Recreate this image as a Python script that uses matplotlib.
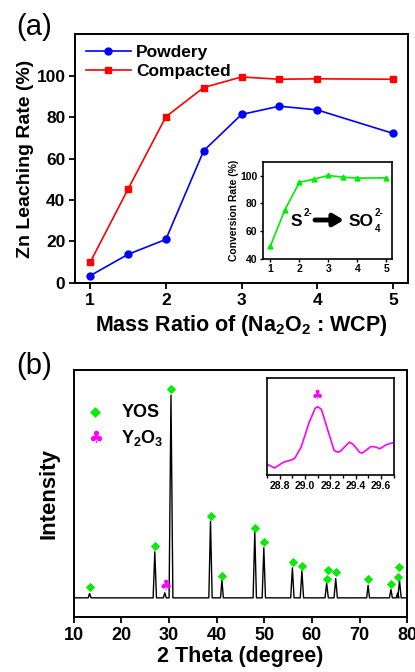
import numpy as np
import matplotlib
matplotlib.use("Agg")
import matplotlib.pyplot as plt

plt.rcParams['font.family'] = ['Liberation Sans', 'DejaVu Sans']
plt.rcParams['mathtext.fontset'] = 'custom'
plt.rcParams['mathtext.rm'] = 'Liberation Sans:bold'
plt.rcParams['mathtext.bf'] = 'Liberation Sans:bold'
plt.rcParams['mathtext.it'] = 'Liberation Sans:bold'

# (a) leaching data
ratio = [1, 1.5, 2, 2.5, 3, 3.5, 4, 5]
powdery = [3.5, 13.8, 21.0, 63.8, 81.3, 85.3, 83.5, 72.2]
compacted = [10.0, 45.3, 80.2, 94.3, 99.4, 98.3, 98.5, 98.3]
conversion = [49.2, 75.3, 95.2, 97.6, 100.2, 99.0, 98.3, 98.5]

# (b) XRD peaks: position, height (peak of 30.4 = 1000)
peak_pos = [13.3, 27.0, 29.1, 30.4, 38.7, 41.1, 48.0, 49.9, 55.9, 57.9,
            63.1, 65.0, 71.8, 76.6, 78.0, 78.4]
peak_h = [21, 227, 25, 1000, 378, 87, 326, 247, 148, 133,
          71, 95, 62, 41, 23, 87]
peak_w = [0.3, 0.35, 0.3, 0.4, 0.35, 0.3, 0.35, 0.35, 0.35, 0.35,
          0.35, 0.35, 0.3, 0.3, 0.3, 0.35]

yos_x = [13.4, 27.1, 30.4, 38.7, 41.1, 48.0, 49.9, 56.0, 57.9, 63.1, 63.3,
         65.0, 71.7, 76.6, 78.0, 78.3]
yos_y = [54, 257, 1031, 403, 110, 347, 275, 176, 158, 95, 137,
         128, 92, 69, 104, 150]
y2o3_x = [29.2]
y2o3_y = [59]

# inset (b) zoom around 29 deg
zoom_x = [28.70, 28.76, 28.83, 28.90, 28.92, 28.97, 29.03, 29.08, 29.10,
          29.13, 29.18, 29.23, 29.26, 29.28, 29.35, 29.38, 29.43, 29.45,
          29.48, 29.52, 29.56, 29.59, 29.64, 29.70]
zoom_y = [60, 48, 65, 73, 77, 110, 180, 225, 230, 222, 160, 100, 95, 98,
          125, 118, 95, 92, 100, 112, 110, 105, 117, 124]

W, H = 415, 672


def fx(px):
    return px / W


def fy(py):
    return 1 - py / H


def club(axis, xs, ys, size):
    for xx, yy in zip(xs, ys):
        axis.text(xx, yy, '\u2663', color='#ff00ff', fontsize=size,
                  ha='center', va='center', family='DejaVu Sans', zorder=4)


fig = plt.figure(figsize=(4.15, 6.72), dpi=100)

# ---------- panel (a)
ax = fig.add_axes([0.181, 0.579, 0.802, 0.370])
ax.plot(ratio, powdery, '-o', color='#0000ff', ms=5, lw=1.2, label='Powdery')
ax.plot(ratio, compacted, '-s', color='#ff0000', ms=5, lw=1.2, label='Compacted')
ax.set_xlim(0.8, 5.2)
ax.set_ylim(0, 120)
ax.set_xticks([1, 2, 3, 4, 5])
ax.set_yticks([0, 20, 40, 60, 80, 100])
ax.tick_params(direction='out', width=1.3, length=4, labelsize=12.5, pad=3)
for lab in ax.get_xticklabels() + ax.get_yticklabels():
    lab.set_fontweight('bold')
for s in ax.spines.values():
    s.set_linewidth(1.4)
ax.set_ylabel('Zn Leaching Rate (%)', fontsize=14, fontweight='bold', labelpad=2)
ax.set_xlabel(r'Mass Ratio of (Na$_2$O$_2$ : WCP)', fontsize=15.5,
              fontweight='bold', labelpad=4)
leg = ax.legend(loc='upper left', frameon=False, fontsize=12.5,
                handlelength=2.6, borderaxespad=0.2, labelspacing=0.25,
                handletextpad=0.3, bbox_to_anchor=(0.0, 1.0))
for t in leg.get_texts():
    t.set_fontweight('bold')
fig.text(fx(16), fy(27), '(a)', fontsize=21, va='center')

ins = fig.add_axes([0.634, 0.615, 0.311, 0.144])
ins.plot(ratio, conversion, '-^', color='#00ee00', ms=3.5, lw=1.2)
ins.set_xlim(0.75, 5.2)
ins.set_ylim(40, 110)
ins.set_xticks([1, 2, 3, 4, 5])
ins.set_yticks([40, 60, 80, 100])
ins.tick_params(direction='out', width=1, length=2.5, labelsize=7.5, pad=1.5)
for lab in ins.get_xticklabels() + ins.get_yticklabels():
    lab.set_fontweight('bold')
for s in ins.spines.values():
    s.set_linewidth(1.2)
ins.set_ylabel('Conversion Rate (%)', fontsize=7.5, fontweight='bold', labelpad=1)

# S2- -> SO4 2- label
fig.text(fx(291), fy(221), 'S', fontsize=12.5, fontweight='bold', va='center')
fig.text(fx(303.5), fy(213), '2-', fontsize=7, fontweight='bold', va='center')
fig.text(fx(349), fy(221), 'SO', fontsize=12.5, fontweight='bold', va='center')
fig.text(fx(374.5), fy(213), '2-', fontsize=7, fontweight='bold', va='center')
fig.text(fx(375), fy(229), '4', fontsize=7, fontweight='bold', va='center')
ins.annotate('', xy=(fx(344), fy(220)), xytext=(fx(315), fy(220)),
             xycoords='figure fraction', textcoords='figure fraction',
             arrowprops=dict(arrowstyle='-|>,head_length=0.6,head_width=0.35',
                             color='black', lw=3.5, shrinkA=0, shrinkB=0))

# ---------- panel (b)
bx = fig.add_axes([0.178, 0.082, 0.803, 0.367])
x = [10.0]
y = [0.0]
for p, h, w in zip(peak_pos, peak_h, peak_w):
    x += [p - w, p, p + w]
    y += [0.0, h, 0.0]
x.append(80.0)
y.append(0.0)
bx.plot(x, y, color='black', lw=1.0)
bx.scatter(yos_x, yos_y, marker='D', s=22, color='#00ee00', zorder=3,
           linewidths=0)
club(bx, y2o3_x, y2o3_y, 10)
bx.set_xlim(10, 80)
bx.set_ylim(-94, 1123)
bx.set_xticks(range(10, 81, 10))
bx.set_yticks([])
bx.tick_params(direction='out', width=1.3, length=4, labelsize=13, pad=3)
for lab in bx.get_xticklabels():
    lab.set_fontweight('bold')
for s in bx.spines.values():
    s.set_linewidth(1.4)
bx.set_xlabel('2 Theta (degree)', fontsize=15.5, fontweight='bold', labelpad=2)
bx.set_ylabel('Intensity', fontsize=16, fontweight='bold', labelpad=10)
bx.scatter([14.5], [915], marker='D', s=30, color='#00ee00', linewidths=0)
bx.text(20.0, 915, 'YOS', fontsize=13, fontweight='bold', va='center')
club(bx, [14.5], [790], 12)
bx.text(20.0, 790, r'Y$_2$O$_3$', fontsize=13, fontweight='bold', va='center')
fig.text(fx(16), fy(366), '(b)', fontsize=21, va='center')

bi = fig.add_axes([0.643, 0.293, 0.306, 0.1445])
bi.plot(zoom_x, zoom_y, color='#ff00ff', lw=1.2)
club(bi, [29.1], [265], 9)
bi.set_xlim(28.7, 29.7)
bi.set_ylim(27, 315)
bi.set_xticks([28.8, 29.0, 29.2, 29.4, 29.6])
bi.set_xticks(np.arange(28.7, 29.71, 0.1), minor=True)
bi.set_yticks([])
bi.tick_params(axis='x', which='both', direction='out', width=1, labelsize=7.5, pad=1.5)
bi.tick_params(axis='x', which='major', length=3)
bi.tick_params(axis='x', which='minor', length=2)
for lab in bi.get_xticklabels():
    lab.set_fontweight('bold')
for s in bi.spines.values():
    s.set_linewidth(1.2)

fig.savefig('out.png', dpi=100)
